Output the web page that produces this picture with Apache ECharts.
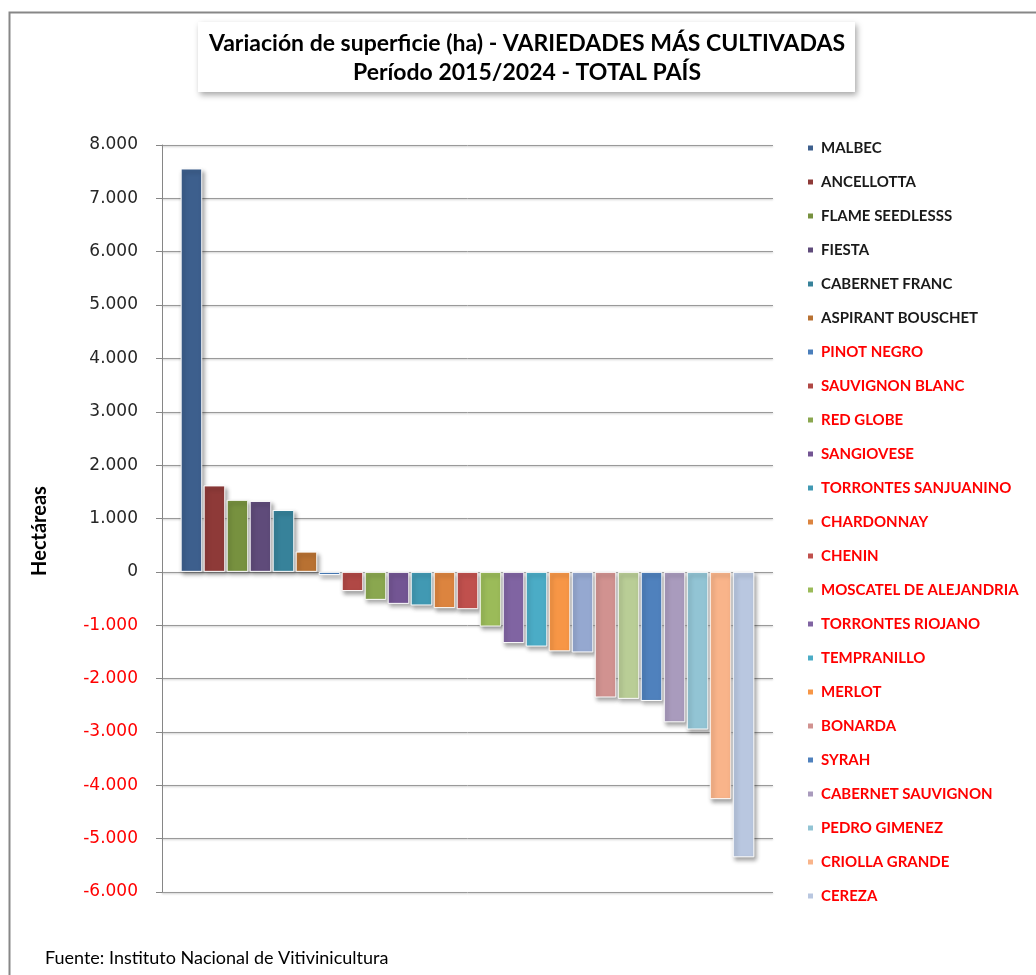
<!DOCTYPE html>
<html>
<head>
<meta charset="utf-8">
<script src="https://cdn.jsdelivr.net/npm/echarts@6/dist/echarts.min.js"></script>
<style>
html,body{margin:0;padding:0;background:#fff;}
#chart{width:1036px;height:975px;}
</style>
</head>
<body>
<div id="chart"></div>
<script>
// ---- data ----
var varieties = ["MALBEC","ANCELLOTTA","FLAME SEEDLESSS","FIESTA","CABERNET FRANC","ASPIRANT BOUSCHET",
  "PINOT NEGRO","SAUVIGNON BLANC","RED GLOBE","SANGIOVESE","TORRONTES SANJUANINO","CHARDONNAY",
  "CHENIN","MOSCATEL DE ALEJANDRIA","TORRONTES RIOJANO","TEMPRANILLO","MERLOT","(sin leyenda 1)",
  "BONARDA","(sin leyenda 2)","SYRAH","CABERNET SAUVIGNON","PEDRO GIMENEZ","CRIOLLA GRANDE","CEREZA"];
var values = [7560,1620,1350,1330,1160,380,
  -60,-360,-525,-600,-630,-680,
  -700,-1025,-1335,-1400,-1490,-1510,
  -2355,-2380,-2420,-2820,-2955,-4260,-5350];
var inLegend = [1,1,1,1,1,1, 1,1,1,1,1,1, 1,1,1,1,1,0, 1,0,1,1,1,1,1];
var redLabel = [0,0,0,0,0,0, 1,1,1,1,1,1, 1,1,1,1,1,1, 1,1,1,1,1,1,1];
var colors = ["#3d5f8d","#8e3a38","#77913f","#5f4b7a","#37829a","#b87132",
  "#4a7ebb","#b04845","#8aa74f","#735593","#4199b3","#dc843f",
  "#c0504d","#9bbb59","#8064a2","#4bacc6","#f79646","#95a8d0",
  "#d19290","#b9cd96","#4f81bd","#a99bbd","#92c4d4","#f9b48a","#b9c7e0"];
var yTicks = {min:-6000, max:8000, interval:1000};
var titleLines = ["Variación de superficie (ha) - VARIEDADES MÁS CULTIVADAS","Período 2015/2024 - TOTAL PAÍS"];
var yAxisTitle = "Hectáreas";
var sourceText = "Fuente: Instituto Nacional de Vitivinicultura";

// ---- chart ----
var chart = echarts.init(document.getElementById('chart'), null, {renderer:'canvas'});
var FONT = 'Lato, "Open Sans", sans-serif';

function fmt(v){
  var s = Math.abs(v).toString();
  s = s.replace(/\B(?=(\d{3})+(?!\d))/g, '.');
  return (v < 0 ? '-' : '') + s;
}

var series = varieties.map(function(name, i){
  return {
    type:'bar',
    name:name,
    data:[values[i]],
    barWidth:21.6,
    barGap:'6.5%',
    itemStyle:{
      color:colors[i],
      borderColor:'#ffffff',
      borderWidth:1,
      shadowBlur:4,
      shadowColor:'rgba(0,0,0,0.35)',
      shadowOffsetX:2,
      shadowOffsetY:3
    },
    emphasis:{disabled:true},
    animation:false
  };
});

var legendData = [];
varieties.forEach(function(name, i){
  if (inLegend[i]) {
    legendData.push({name:name, textStyle:{color: redLabel[i] ? '#ff0000' : '#1a1a1a'}});
  }
});

var option = {
  animation:false,
  backgroundColor:'#ffffff',
  grid:{left:162, top:145, right:263, bottom:83, containLabel:false},
  xAxis:{
    type:'category',
    data:[''],
    axisLine:{show:false},
    axisTick:{show:false},
    axisLabel:{show:false},
    splitLine:{show:false}
  },
  yAxis:{
    type:'value',
    min:yTicks.min, max:yTicks.max, interval:yTicks.interval,
    axisLine:{show:true, lineStyle:{color:'#868686', width:1}},
    axisTick:{show:true, inside:false, length:6, lineStyle:{color:'#868686'}},
    axisLabel:{
      margin:24,
      fontFamily:'"DejaVu Sans", Verdana, sans-serif',
      fontSize:17,
      formatter:function(v){ return v < 0 ? '{neg|' + fmt(v) + '}' : '{pos|' + fmt(v) + '}'; },
      rich:{
        pos:{color:'#262626', fontSize:17, fontFamily:'"DejaVu Sans", sans-serif'},
        neg:{color:'#ff0000', fontSize:17, fontFamily:'"DejaVu Sans", sans-serif'}
      }
    },
    splitLine:{show:true, lineStyle:{color:'#9a9a9a', width:1, shadowBlur:2, shadowColor:'rgba(0,0,0,0.25)', shadowOffsetY:1}}
  },
  legend:{
    orient:'vertical',
    left:806,
    top:139,
    padding:0,
    itemWidth:7,
    itemHeight:7,
    itemGap:16,
    icon:'rect',
    selectedMode:false,
    data:legendData,
    textStyle:{fontFamily:FONT, fontWeight:'bold', fontSize:15, lineHeight:18, padding:[0,0,0,2]}
  },
  graphic:[
    {type:'rect', left:7, top:10, shape:{width:1100, height:1100},
     style:{fill:'none', stroke:'#878787', lineWidth:2}, silent:true, z:-10},
    {type:'rect', shape:{x:198, y:22, width:657, height:70},
     style:{fill:'#ffffff', shadowBlur:6, shadowColor:'rgba(0,0,0,0.35)', shadowOffsetX:2, shadowOffsetY:3}, z:10},
    {type:'text', x:527, y:44, z:11,
     style:{text:titleLines[0], fill:'#000', font:'bold 23px ' + FONT, textAlign:'center', textVerticalAlign:'middle'}},
    {type:'text', x:527, y:73, z:11,
     style:{text:titleLines[1], fill:'#000', font:'bold 23px ' + FONT, textAlign:'center', textVerticalAlign:'middle'}},
    {type:'text', x:40, y:531, rotation:Math.PI/2, z:11,
     style:{text:yAxisTitle, fill:'#000', font:'bold 20px ' + FONT, textAlign:'center', textVerticalAlign:'middle'}},
    {type:'text', x:45, y:958, z:11,
     style:{text:sourceText, fill:'#000', font:'18px ' + FONT, textAlign:'left', textVerticalAlign:'middle'}}
  ],
  series:series
};
chart.setOption(option);
</script>
</body>
</html>
